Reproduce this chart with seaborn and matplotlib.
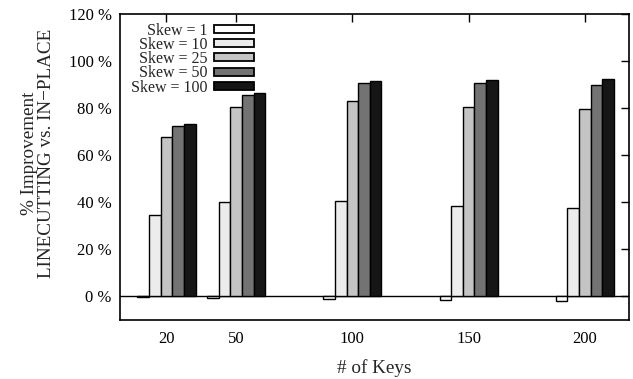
import matplotlib
matplotlib.use("Agg")
import matplotlib.pyplot as plt
import seaborn as sns
import pandas as pd
from matplotlib.patches import Patch

keys = [20, 50, 100, 150, 200]
skew_labels = ["Skew = 1", "Skew = 10", "Skew = 25", "Skew = 50", "Skew = 100"]
skew1 = [-0.4, -0.7, -1.1, -1.5, -2.1]
skew10 = [34.8, 40.0, 40.7, 38.3, 37.7]
skew25 = [67.8, 80.6, 83.1, 80.4, 79.7]
skew50 = [72.3, 85.8, 90.8, 90.8, 90.0]
skew100 = [73.1, 86.3, 91.7, 92.1, 92.2]
y_ticks = [0, 20, 40, 60, 80, 100, 120]

colors = ["#ffffff", "#ececec", "#c4c4c4", "#737373", "#161616"]

rows = []
for lab, vals in zip(skew_labels, [skew1, skew10, skew25, skew50, skew100]):
    for k, v in zip(keys, vals):
        rows.append({"keys": k, "skew": lab, "val": v})
df = pd.DataFrame(rows)

sns.set_theme(style="white")
plt.rcParams["font.family"] = ["Liberation Serif", "DejaVu Serif"]

fig = plt.figure(figsize=(6.33, 3.79), dpi=100)
ax = fig.add_axes([120 / 633, 1 - 320 / 379, (629 - 120) / 633, (320 - 14) / 379])

sns.barplot(data=df, x="keys", y="val", hue="skew", hue_order=skew_labels,
            palette=colors, native_scale=True, width=25 / 30, ax=ax,
            edgecolor="black", linewidth=1.0, saturation=1, legend=False)

ax.axhline(0, color="black", lw=1, zorder=0.5)
ax.set_xlim(0, 219)
ax.set_ylim(-10, 120)
ax.set_xticks(keys)
ax.set_xticklabels([str(k) for k in keys])
ax.set_yticks(y_ticks)
ax.set_yticklabels([f"{t} %" for t in y_ticks])
ax.tick_params(direction="in", length=6, width=1, top=True, right=True,
               labelsize=12, colors="black", pad=6)
ax.tick_params(axis="x", pad=8)
for s in ax.spines.values():
    s.set_color("black")
    s.set_linewidth(1.2)

ax.set_xlabel("# of Keys", fontsize=13.8, labelpad=9)
ax.set_ylabel("% Improvement\nLINECUTTING vs. IN\u2212PLACE", fontsize=13.8,
              linespacing=1.0)
ax.yaxis.set_label_coords((55 - 120) / 509, (320 - 153) / 306)

handles = [Patch(facecolor=c, edgecolor="black", linewidth=1.3) for c in colors]
leg = ax.legend(handles, skew_labels, loc="upper left", frameon=False,
                markerfirst=False, handlelength=2.5, handleheight=0.4,
                labelspacing=-0.11, fontsize=11.5, borderaxespad=0, borderpad=0,
                bbox_to_anchor=(0.0216, 0.972), handletextpad=0.4)

fig.savefig("out.png", dpi=100)
